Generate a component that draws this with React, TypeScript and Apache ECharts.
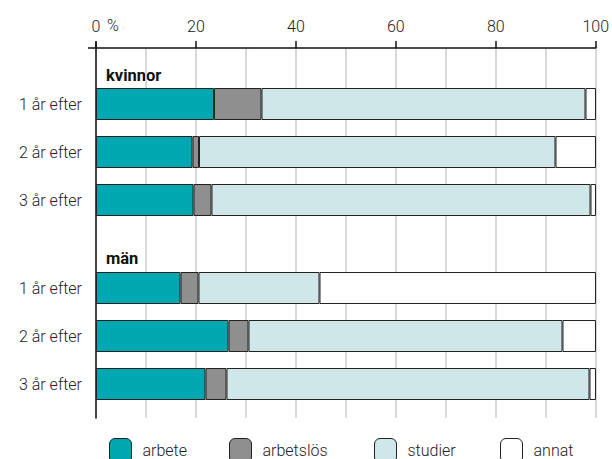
import React, { useEffect, useRef } from "react";
import * as echarts from "echarts";

const categories = ["1 år efter", "2 år efter", "3 år efter"];
const seriesNames = ["arbete", "arbetslös", "studier", "annat"];
const colors = ["#00a7b0", "#8f8f8f", "#cfe7e8", "#ffffff"];

const kvinnorArbete = [23.6, 19.3, 19.5];
const kvinnorArbetslos = [9.5, 1.3, 3.6];
const kvinnorStudier = [64.8, 71.3, 75.8];
const kvinnorAnnat = [2.1, 8.1, 1.1];

const manArbete = [16.9, 26.5, 21.9];
const manArbetslos = [3.6, 4.0, 4.2];
const manStudier = [24.2, 62.8, 72.6];
const manAnnat = [55.3, 6.7, 1.3];

const groupLabels = ["kvinnor", "män"];

const FONT = "Roboto, 'Liberation Sans', sans-serif";
const TEXT = "#222222";
const W = 300;

export default function App() {
  const ref = useRef<HTMLDivElement>(null);
  useEffect(() => {
    if (!ref.current) return;
    const chart = echarts.init(ref.current, undefined, { renderer: "svg" });

    const kv = [kvinnorArbete, kvinnorArbetslos, kvinnorStudier, kvinnorAnnat];
    const mn = [manArbete, manArbetslos, manStudier, manAnnat];

    const mkSeries = (data: number[][], idx: number, stack: string) =>
      data.map((d, i) => ({
        name: seriesNames[i],
        type: "bar",
        stack,
        xAxisIndex: idx,
        yAxisIndex: idx,
        barWidth: 32,
        data: d,
        itemStyle: { color: colors[i], borderColor: "#222", borderWidth: 1 },
        emphasis: { disabled: true },
      }));

    const hiddenX = (gi: number) => ({
      type: "value",
      gridIndex: gi,
      min: 0,
      max: 100,
      show: false,
    });
    const catY = (gi: number) => ({
      type: "category",
      gridIndex: gi,
      data: categories,
      inverse: true,
      axisLine: { show: false },
      axisTick: { show: false },
      axisLabel: {
        fontSize: 16,
        fontWeight: W,
        color: TEXT,
        fontFamily: FONT,
        margin: 14,
        padding: [5, 0, 0, 0],
      },
      splitLine: { show: false },
    });

    const legendLefts = [109, 229, 374, 500];

    chart.setOption({
      animation: false,
      backgroundColor: "#ffffff",
      textStyle: { fontFamily: FONT },
      grid: [
        { left: 96, right: 16, top: 48, bottom: 41 },
        { left: 96, right: 16, top: 80, height: 144 },
        { left: 96, right: 16, top: 264, height: 144 },
      ],
      xAxis: [
        {
          type: "value",
          gridIndex: 0,
          position: "top",
          min: 0,
          max: 100,
          interval: 20,
          axisLine: { show: true, onZero: false, lineStyle: { color: "#111", width: 1.5 } },
          axisTick: { show: true, length: 7, lineStyle: { color: "#111", width: 1.5 } },
          axisLabel: { fontSize: 16, fontWeight: W, color: TEXT, fontFamily: FONT, margin: 14 },
          splitLine: { show: true, lineStyle: { color: "#cccccc", width: 1.5 } },
          minorTick: { show: false, splitNumber: 2 },
          minorSplitLine: { show: true, lineStyle: { color: "#cccccc", width: 1.5 } },
        },
        hiddenX(1),
        hiddenX(2),
      ],
      yAxis: [
        {
          type: "value",
          gridIndex: 0,
          min: 0,
          max: 1,
          axisLine: { show: true, onZero: false, lineStyle: { color: "#111", width: 1.5 } },
          axisTick: { show: false },
          axisLabel: { show: false },
          splitLine: { show: false },
        },
        catY(1),
        catY(2),
      ],
      legend: seriesNames.map((n, i) => ({
        data: [n],
        left: legendLefts[i],
        top: 438,
        padding: 0,
        itemWidth: 22,
        itemHeight: 24,
        selectedMode: false,
        textStyle: {
          fontSize: 16,
          fontWeight: W,
          color: TEXT,
          fontFamily: FONT,
          padding: [0, 0, 0, 6],
        },
        itemStyle: { borderColor: "#222", borderWidth: 1 },
      })),
      graphic: [
        { type: "line", shape: { x1: 96, y1: 42, x2: 96, y2: 48 }, style: { stroke: "#111", lineWidth: 1.5 } },
        { type: "line", shape: { x1: 88, y1: 48, x2: 96, y2: 48 }, style: { stroke: "#111", lineWidth: 1.5 } },
        {
          type: "text",
          x: 113,
          y: 25,
          style: { text: "%", fontSize: 16, fontWeight: W, fill: TEXT, fontFamily: FONT, align: "center", verticalAlign: "middle" },
        },
        {
          type: "text",
          x: 106,
          y: 75,
          style: { text: groupLabels[0], fontSize: 16.5, fontWeight: "bold", fill: "#111", fontFamily: FONT, verticalAlign: "middle" },
        },
        {
          type: "text",
          x: 106,
          y: 258,
          style: { text: groupLabels[1], fontSize: 16.5, fontWeight: "bold", fill: "#111", fontFamily: FONT, verticalAlign: "middle" },
        },
      ],
      series: [...mkSeries(kv, 1, "k"), ...mkSeries(mn, 2, "m")],
    });
    return () => chart.dispose();
  }, []);
  return (
    <div
      ref={ref}
      style={{ position: "fixed", left: 0, top: 0, width: 612, height: 459 }}
    />
  );
}
